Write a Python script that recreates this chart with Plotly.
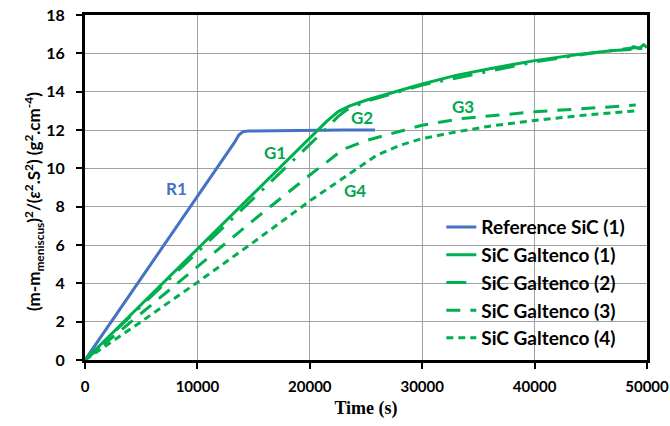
import plotly.graph_objects as go

# Reference SiC (1)
r1_t = [0, 5000, 10000, 13300, 13700, 14100, 14600, 17000, 20000, 23000, 25800]
r1_y = [0, 4.25, 8.5, 11.35, 11.75, 11.92, 11.95, 11.97, 12.0, 12.0, 12.0]

# SiC Galtenco (1)
g1_t = [0, 5000, 10000, 15000, 20000, 21500, 22500, 23500, 25000, 26200, 28000, 30000,
        33000, 36000, 40000, 44000, 47000, 48500, 48800, 49300, 49700, 50000]
g1_y = [0, 2.9, 5.8, 8.7, 11.55, 12.45, 12.95, 13.25, 13.55, 13.75, 14.05, 14.4,
        14.85, 15.2, 15.62, 15.95, 16.15, 16.2, 16.35, 16.25, 16.45, 16.3]

# SiC Galtenco (2)
g2_t = [0, 5000, 10000, 15000, 20000, 21500, 22500, 23300, 25000, 28000, 30000,
        35000, 40000, 45000, 48000, 49000, 49500, 50000]
g2_y = [0, 2.8, 5.6, 8.45, 11.25, 12.1, 12.7, 13.05, 13.5, 14.0, 14.35,
        14.95, 15.55, 16.0, 16.2, 16.3, 16.25, 16.4]

# SiC Galtenco (3)
g3_t = [0, 5000, 10000, 15000, 20000, 23000, 25000, 26200, 28000, 30000, 33600,
        37000, 40000, 44000, 47000, 49000]
g3_y = [0, 2.45, 4.9, 7.3, 9.65, 11.0, 11.45, 11.65, 11.95, 12.25, 12.6,
        12.8, 12.95, 13.1, 13.2, 13.3]

# SiC Galtenco (4)
g4_t = [0, 5000, 10000, 15000, 20000, 24000, 26000, 27000, 28000, 30000, 33000,
        36000, 40000, 44000, 47000, 49000]
g4_y = [0, 2.0, 4.05, 6.15, 8.3, 9.9, 10.7, 10.95, 11.2, 11.55, 11.9,
        12.2, 12.5, 12.75, 12.9, 13.0]

# curve labels
lab_text = ["R1", "G1", "G2", "G3", "G4"]
lab_t = [8180, 16900, 24650, 33600, 24000]
lab_y = [8.95, 10.85, 12.65, 13.25, 8.85]

x_ticks = [0, 10000, 20000, 30000, 40000, 50000]
y_ticks = [0, 2, 4, 6, 8, 10, 12, 14, 16, 18]

BLUE = "#4472C4"
GREEN = "#00B050"
LFONT = "Lato"

fig = go.Figure()
series = [
    ("Reference SiC (1)", r1_t, r1_y, BLUE, "solid"),
    ("SiC Galtenco (1)", g1_t, g1_y, GREEN, "solid"),
    ("SiC Galtenco (2)", g2_t, g2_y, GREEN, "20px,10px,3px,10px"),
    ("SiC Galtenco (3)", g3_t, g3_y, GREEN, "14px,10px"),
    ("SiC Galtenco (4)", g4_t, g4_y, GREEN, "7px,5px"),
]
for i, (name, t, y, c, d) in enumerate(series):
    fig.add_trace(go.Scatter(x=t, y=y, mode="lines", name=name, legendgroup=str(i),
                             line=dict(color=c, width=3, dash=d)))

for txt, t, y in zip(lab_text, lab_t, lab_y):
    fig.add_annotation(x=t, y=y, text="<b>" + txt + "</b>", showarrow=False,
                       font=dict(family=LFONT, size=17, color=BLUE if txt == "R1" else "#00A650"))

# y-axis title (as rotated annotation, to match its vertical placement)
fig.add_annotation(xref="paper", yref="paper", x=-0.1174, y=0.458, textangle=-90, showarrow=False,
                   text="<b>(m-m<sub>meniscus</sub>)<sup>2</sup>/(<i>ε</i><sup>2</sup>.S<sup>2</sup>) (g<sup>2</sup>.cm<sup>-4</sup>)</b>",
                   font=dict(family=LFONT, size=17, color="black"))

fig.add_shape(type="rect", xref="paper", yref="paper", x0=0.598, x1=0.997, y0=0.01, y1=0.435,
              fillcolor="white", line=dict(width=0), layer="between")

fig.update_layout(
    width=670, height=426,
    margin=dict(l=85, r=23, t=15, b=66, autoexpand=False),
    plot_bgcolor="white", paper_bgcolor="white",
    showlegend=True,
    legend=dict(x=0.634, y=0.44, xanchor="left", yanchor="top",
                bgcolor="rgba(0,0,0,0)", font=dict(family=LFONT, size=19, color="black", weight="bold"),
                tracegroupgap=10, traceorder="normal"),
    font=dict(family=LFONT, color="black"),
)
fig.update_xaxes(range=[0, 50000], tickvals=x_ticks, ticktext=["<b>%d</b>" % v for v in x_ticks],
                 showgrid=True, gridcolor="#A0A0A0", gridwidth=1, automargin=False,
                 showline=True, linecolor="black", linewidth=3, mirror=True,
                 ticks="outside", ticklen=6, tickwidth=2, tickcolor="black", ticklabelstandoff=5,
                 tickfont=dict(family=LFONT, size=15, color="black"), zeroline=False,
                 title=dict(text="<b>Time (s)</b>", font=dict(family="Liberation Serif", size=18), standoff=8))
fig.update_yaxes(range=[0, 18], tickvals=y_ticks, ticktext=["<b>%d</b>" % v for v in y_ticks],
                 showgrid=True, gridcolor="#A0A0A0", gridwidth=1, automargin=False,
                 showline=True, linecolor="black", linewidth=3, mirror=True,
                 ticks="outside", ticklen=6, tickwidth=2, tickcolor="black", ticklabelstandoff=8,
                 tickfont=dict(family=LFONT, size=16, color="black"), zeroline=False)

fig.write_html("out.html")
